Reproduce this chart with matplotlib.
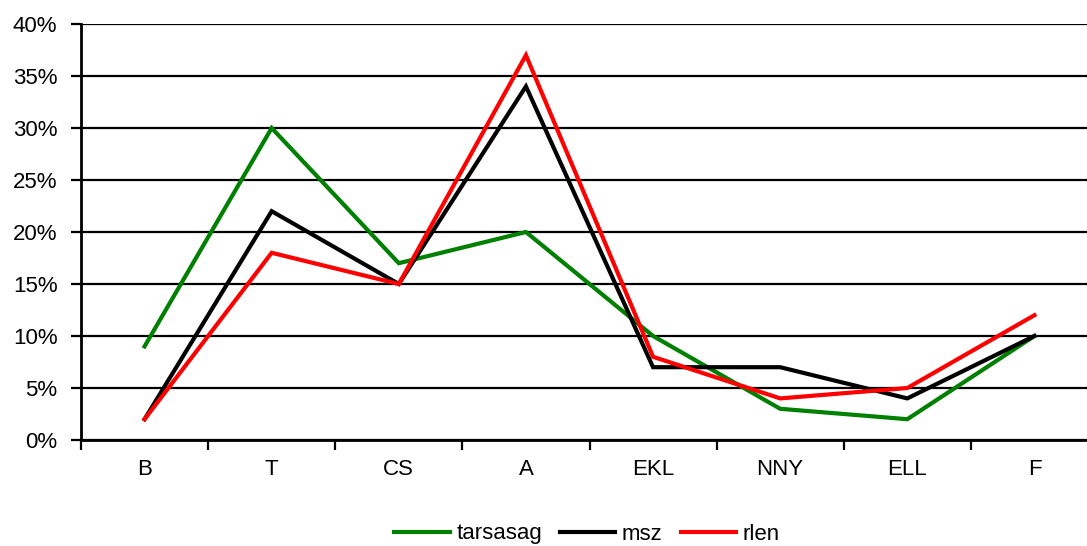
import numpy as np
import matplotlib
matplotlib.use('Agg')
import matplotlib.pyplot as plt
from matplotlib.ticker import FixedLocator, PercentFormatter

categories = ['B', 'T', 'CS', 'A', 'EKL', 'NNY', 'ELL', 'F']
tarsasag = [9, 30, 17, 20, 10, 3, 2, 10]
msz = [2, 22, 15, 34, 7, 7, 4, 10]
rlen = [2, 18, 15, 37, 8, 4, 5, 12]

plt.rcParams['font.family'] = ['Liberation Sans', 'DejaVu Sans']

fig = plt.figure(figsize=(10.87, 5.46), dpi=100)
ax = fig.add_axes([81.0/1087, 106.0/546, 1017.0/1087, 416.0/546])

x = np.arange(len(categories))
ax.plot(x, tarsasag, color='#008000', lw=3, label='tarsasag', solid_joinstyle='miter')
ax.plot(x, msz, color='black', lw=3, label='msz', solid_joinstyle='miter')
ax.plot(x, rlen, color='red', lw=3, label='rlen', solid_joinstyle='miter')

ax.set_xlim(-0.5, len(categories) - 0.5)
ax.set_ylim(0, 40)
ax.set_yticks(np.arange(0, 41, 5))
ax.yaxis.set_major_formatter(PercentFormatter(decimals=0))
ax.yaxis.grid(True, color='black', lw=1.6)
ax.set_axisbelow(True)

# category boundaries carry the ticks, labels sit in the middle
ax.xaxis.set_major_locator(FixedLocator(np.arange(-0.5, len(categories), 1.0)))
ax.xaxis.set_major_formatter(plt.NullFormatter())
ax.xaxis.set_minor_locator(FixedLocator(x))
ax.set_xticklabels(categories, minor=True)
ax.tick_params(axis='x', which='minor', length=0, pad=14, labelsize=16)
ax.tick_params(axis='x', which='major', length=7, width=1.6, direction='out')
ax.tick_params(axis='y', length=7, width=1.6, direction='out', labelsize=16, pad=10)

for s in ['top', 'right']:
    ax.spines[s].set_visible(False)
for s in ['left', 'bottom']:
    ax.spines[s].set_linewidth(2)

fig.legend(loc='center', bbox_to_anchor=(587.0/1087, 1 - 534.0/546), ncol=3,
           frameon=False, fontsize=16, handlelength=2.5, handletextpad=0.3,
           columnspacing=0.8)

plt.savefig('out.png', dpi=100)
